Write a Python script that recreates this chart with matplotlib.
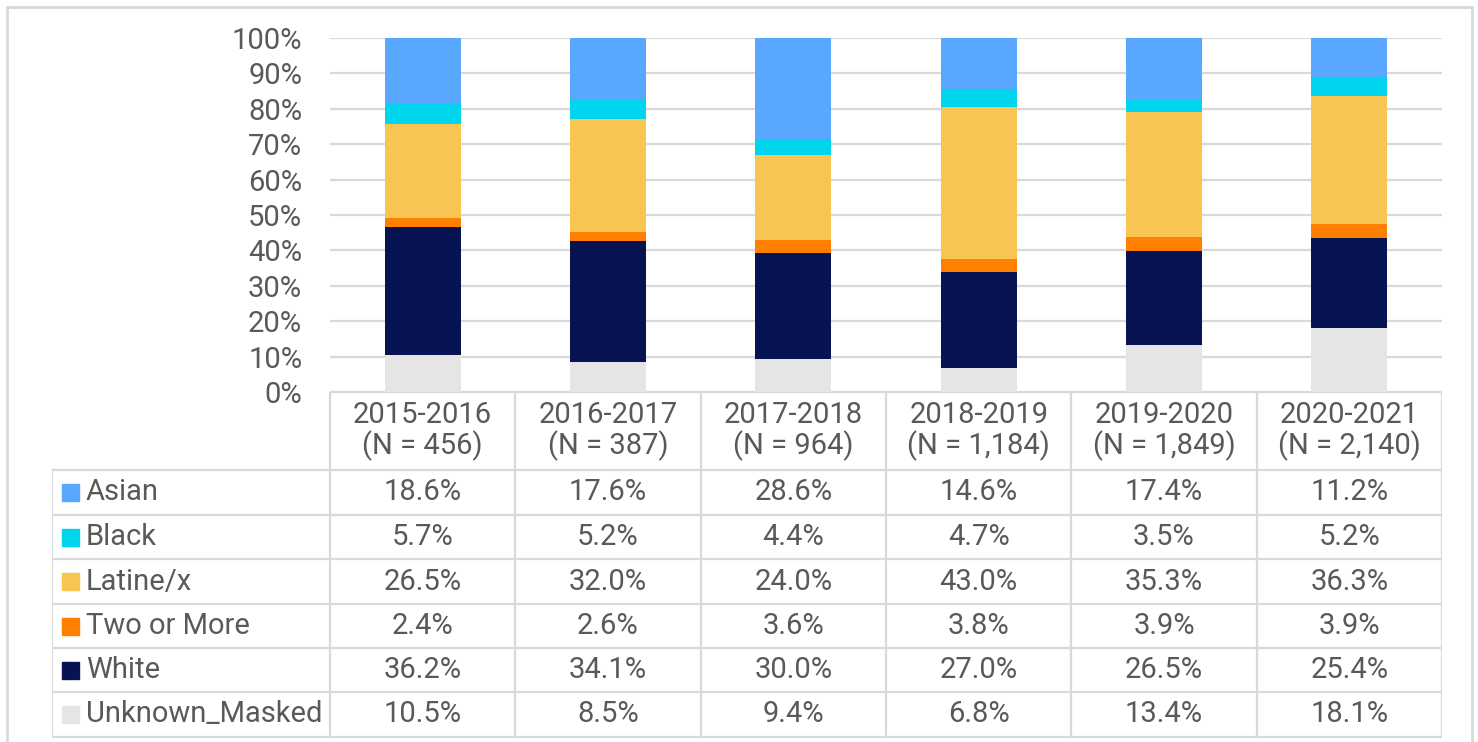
import matplotlib.pyplot as plt
from matplotlib.patches import Rectangle

plt.rcParams['font.family'] = ['Roboto', 'DejaVu Sans']

# Dados
anos = ['2015-2016', '2016-2017', '2017-2018', '2018-2019', '2019-2020', '2020-2021']
n_alunos = ['456', '387', '964', '1,184', '1,849', '2,140']
grupos = ['Asian', 'Black', 'Latine/x', 'Two or More', 'White', 'Unknown_Masked']
asian = [18.6, 17.6, 28.6, 14.6, 17.4, 11.2]
black = [5.7, 5.2, 4.4, 4.7, 3.5, 5.2]
latine = [26.5, 32.0, 24.0, 43.0, 35.3, 36.3]
two_more = [2.4, 2.6, 3.6, 3.8, 3.9, 3.9]
white = [36.2, 34.1, 30.0, 27.0, 26.5, 25.4]
unknown = [10.5, 8.5, 9.4, 6.8, 13.4, 18.1]

valores = [asian, black, latine, two_more, white, unknown]
cores = ['#5AA7FF', '#00D5EE', '#F8C552', '#FF8000', '#081452', '#E5E5E5']

cor_texto = '#595959'
cor_linha = '#D9D9D9'
fs = 21

W, H = 1478, 742
fig = plt.figure(figsize=(W / 100, H / 100), dpi=100)

# Moldura externa
fig.patches.append(Rectangle((7 / W, -0.01), 1465 / W, 1 - 7 / H + 0.01,
                             transform=fig.transFigure, fill=False,
                             edgecolor=cor_linha, linewidth=2))

# Eixo das barras
x0, x1 = 330, 1442
y_top, y_bot = 38, 392
ax = fig.add_axes([x0 / W, 1 - y_bot / H, (x1 - x0) / W, (y_bot - y_top) / H])
pos = list(range(len(anos)))

# Empilhamento de baixo para cima
base = [0] * len(anos)
for i in reversed(range(len(grupos))):
    ax.bar(pos, valores[i], bottom=base, width=0.41, color=cores[i], zorder=2)
    base = [b + v for b, v in zip(base, valores[i])]

ax.set_xlim(-0.5, len(anos) - 0.5)
ax.set_ylim(0, 100)
ax.set_yticks(range(0, 101, 10))
ax.set_yticklabels([f'{t}%' for t in range(0, 101, 10)])
ax.tick_params(axis='y', length=0, pad=20, labelsize=fs, labelcolor=cor_texto)
ax.set_xticks([])
ax.grid(axis='y', color=cor_linha, linewidth=1.6, zorder=0)
for s in ax.spines.values():
    s.set_visible(False)

# Tabela de dados
tx0 = 52
col_w = (x1 - x0) / len(anos)
linhas_y = [470, 515, 559, 604, 648, 692, 737]
tab = fig.add_axes([tx0 / W, 1 - 742 / H, (x1 - tx0) / W, (742 - y_bot) / H])
tab.set_xlim(tx0, x1)
tab.set_ylim(742, y_bot)
tab.axis('off')

lw = 1.6
# linhas horizontais
tab.plot([x0, x1], [y_bot, y_bot], color=cor_linha, lw=lw)
for y in linhas_y:
    tab.plot([tx0, x1], [y, y], color=cor_linha, lw=lw)
# linhas verticais
tab.plot([tx0, tx0], [linhas_y[0], linhas_y[-1]], color=cor_linha, lw=lw)
for k in range(len(anos) + 1):
    xv = x0 + k * col_w
    tab.plot([xv, xv], [y_bot, linhas_y[-1]], color=cor_linha, lw=lw)

# cabeçalho
for k, (a, n) in enumerate(zip(anos, n_alunos)):
    xc = x0 + (k + 0.5) * col_w
    tab.text(xc, (y_bot + linhas_y[0]) / 2, f'{a}\n(N = {n})', ha='center',
             va='center', fontsize=fs, color=cor_texto, linespacing=1.05)

# linhas da tabela
for r, g in enumerate(grupos):
    yc = (linhas_y[r] + linhas_y[r + 1]) / 2
    tab.add_patch(Rectangle((62, yc - 8.5), 17, 17, color=cores[r]))
    tab.text(86, yc, g, ha='left', va='center', fontsize=fs, color=cor_texto)
    for k in range(len(anos)):
        xc = x0 + (k + 0.5) * col_w
        tab.text(xc, yc, f'{valores[r][k]:.1f}%', ha='center', va='center',
                 fontsize=fs, color=cor_texto)

fig.savefig('out.png', dpi=100)
